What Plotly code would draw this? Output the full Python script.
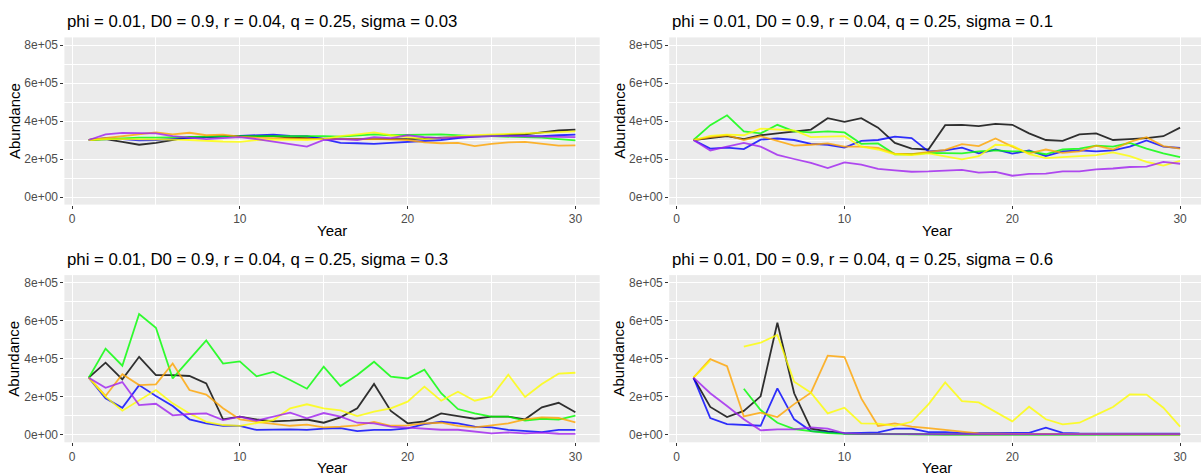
import plotly.graph_objects as go

W, H = 1201, 475
UNIT = 1000  # values below are in thousands

years = list(range(1, 31))
series_names = ["black", "blue", "green", "orange", "yellow", "purple"]
series_colors = {"black": "#000000", "blue": "#0000FF", "green": "#00FF00",
                 "orange": "#FFA500", "yellow": "#FFFF00", "purple": "#A020F0"}

titles = [
    "phi = 0.01, D0 = 0.9, r = 0.04, q = 0.25, sigma = 0.03",
    "phi = 0.01, D0 = 0.9, r = 0.04, q = 0.25, sigma = 0.1",
    "phi = 0.01, D0 = 0.9, r = 0.04, q = 0.25, sigma = 0.3",
    "phi = 0.01, D0 = 0.9, r = 0.04, q = 0.25, sigma = 0.6",
]

y_tickvals = [0, 200000, 400000, 600000, 800000]
y_ticktext = ["0e+00", "2e+05", "4e+05", "6e+05", "8e+05"]
x_tickvals = [0, 10, 20, 30]
x_ticktext = ["0", "10", "20", "30"]

# sigma = 0.03
s003_black = [300, 305, 290, 275, 285, 300, 315, 315, 318, 322, 320, 320, 312, 310, 305, 305, 305, 305, 303, 305, 308, 312, 315, 320, 322, 325, 330, 340, 350, 355]
s003_blue = [300, 310, 305, 298, 300, 305, 312, 318, 320, 322, 325, 328, 322, 320, 305, 285, 283, 280, 285, 290, 292, 300, 310, 318, 320, 320, 318, 320, 325, 328]
s003_green = [300, 305, 310, 312, 312, 315, 318, 318, 320, 320, 320, 320, 322, 322, 320, 318, 325, 330, 325, 325, 328, 330, 325, 320, 320, 318, 315, 312, 305, 298]
s003_orange = [300, 310, 320, 330, 340, 330, 338, 325, 328, 318, 312, 310, 308, 305, 305, 305, 303, 305, 302, 300, 287, 283, 285, 268, 280, 287, 290, 280, 270, 272]
s003_yellow = [300, 305, 305, 305, 305, 302, 300, 295, 292, 290, 300, 302, 300, 300, 305, 320, 330, 340, 325, 315, 305, 310, 320, 325, 330, 332, 335, 338, 342, 345]
s003_purple = [300, 330, 338, 338, 335, 320, 312, 305, 310, 315, 305, 292, 280, 265, 300, 305, 300, 315, 310, 325, 315, 310, 315, 318, 320, 320, 318, 318, 315, 315]

# sigma = 0.1
s01_black = [300, 310, 320, 305, 325, 335, 345, 355, 415, 395, 415, 365, 285, 255, 250, 378, 380, 373, 385, 380, 335, 300, 295, 330, 335, 300, 305, 310, 320, 365]
s01_blue = [300, 255, 260, 252, 302, 308, 300, 280, 275, 260, 295, 300, 318, 310, 240, 245, 260, 230, 250, 228, 245, 215, 240, 245, 240, 245, 265, 298, 265, 258]
s01_green = [300, 378, 430, 345, 335, 380, 345, 340, 345, 340, 280, 282, 225, 225, 232, 232, 230, 240, 245, 240, 240, 225, 250, 255, 270, 265, 285, 255, 230, 210]
s01_orange = [300, 315, 325, 300, 320, 295, 270, 275, 282, 265, 265, 258, 228, 225, 235, 248, 278, 268, 308, 265, 230, 250, 232, 240, 270, 250, 290, 315, 268, 255]
s01_yellow = [300, 322, 328, 325, 360, 355, 350, 315, 318, 320, 265, 250, 225, 220, 230, 215, 198, 215, 275, 270, 225, 205, 210, 215, 220, 235, 215, 185, 165, 190]
s01_purple = [300, 245, 265, 285, 265, 222, 200, 180, 152, 182, 170, 148, 140, 133, 135, 138, 143, 128, 132, 112, 122, 123, 135, 135, 145, 150, 158, 160, 185, 175]

# sigma = 0.3
s03_black = [300, 379, 291, 410, 314, 314, 309, 270, 81, 95, 80, 70, 74, 80, 63, 91, 139, 267, 125, 60, 70, 112, 98, 84, 95, 95, 81, 144, 168, 118]
s03_blue = [300, 191, 142, 261, 204, 151, 81, 60, 47, 46, 25, 28, 28, 25, 32, 35, 19, 25, 25, 33, 56, 68, 60, 42, 39, 25, 19, 14, 25, 25]
s03_green = [300, 453, 363, 635, 563, 296, 396, 496, 374, 386, 307, 330, 288, 242, 358, 256, 314, 384, 305, 296, 342, 218, 135, 112, 95, 95, 74, 84, 79, 100]
s03_orange = [300, 204, 318, 261, 265, 375, 235, 211, 139, 81, 68, 56, 47, 53, 39, 42, 49, 67, 47, 49, 60, 63, 46, 39, 49, 60, 81, 91, 88, 65]
s03_yellow = [300, 200, 126, 182, 235, 165, 112, 68, 51, 46, 60, 77, 139, 160, 139, 128, 98, 121, 139, 174, 253, 179, 226, 179, 200, 316, 198, 267, 321, 326]
s03_purple = [300, 247, 277, 156, 163, 102, 109, 112, 77, 95, 74, 95, 116, 86, 114, 95, 63, 60, 42, 37, 30, 26, 26, 18, 7, 12, 7, 11, 5, 4]

# sigma = 0.6 (None = missing value)
s06_black = [300, 146, 93, 125, 202, 589, 218, 32, 18, 7, 4, 3, 3, 3, 3, 2, 2, 2, 2, 2, 2, 2, 2, 2, 2, 2, 2, 2, 2, 2]
s06_blue = [300, 88, 56, 51, 47, 244, 81, 19, 12, 7, 9, 12, 32, 32, 14, 14, 8, 8, 9, 9, 10, 37, 10, 7, 7, 6, 8, 7, 7, 6]
s06_green = [300, None, None, 242, 130, 63, 30, 19, 9, 4, 3, 2, 1, 1, 1, 1, 1, 1, 1, 1, 1, 1, 1, 1, 1, 1, 1, 1, 1, 1]
s06_orange = [300, 398, 361, 96, 116, 93, 161, 221, 416, 409, 191, 46, 60, 42, 35, 26, 16, 7, 5, 4, 4, 3, 3, 3, 3, 2, 2, 2, 2, 2]
s06_yellow = [300, 390, None, 463, 484, 525, 279, 221, 112, 142, 60, 58, 47, 68, 160, 275, 177, 170, 119, 70, 147, 81, 54, 63, 104, 146, 212, 211, 142, 42]
s06_purple = [300, 218, 151, 81, 23, 28, 28, 39, 32, 7, 4, 3, 3, 3, 3, 3, 3, 3, 3, 3, 3, 3, 3, 3, 3, 3, 3, 3, 3, 3]

panels = [
    {"black": s003_black, "blue": s003_blue, "green": s003_green, "orange": s003_orange, "yellow": s003_yellow, "purple": s003_purple},
    {"black": s01_black, "blue": s01_blue, "green": s01_green, "orange": s01_orange, "yellow": s01_yellow, "purple": s01_purple},
    {"black": s03_black, "blue": s03_blue, "green": s03_green, "orange": s03_orange, "yellow": s03_yellow, "purple": s03_purple},
    {"black": s06_black, "blue": s06_blue, "green": s06_green, "orange": s06_orange, "yellow": s06_yellow, "purple": s06_purple},
]

# panel geometry in pixels
px_per_year = 16.78
col_left = [64.4, 669.2]
col_x0 = [72.0, 676.7]   # pixel position of year 0
row_top = [37.4, 275.1]
row_bot = [204.6, 442.3]

fig = go.Figure()

FONT = "Liberation Sans, Arial, Helvetica, sans-serif"

for i, data in enumerate(panels):
    r, c = divmod(i, 2)
    ax = "" if i == 0 else str(i + 1)
    xa, ya = "x" + ax, "y" + ax
    for name in series_names:
        vals = [None if v is None else v * UNIT for v in data[name]]
        fig.add_trace(go.Scatter(
            x=years, y=vals, mode="lines", xaxis=xa, yaxis=ya,
            line=dict(color=series_colors[name], width=1.8),
            opacity=0.8, showlegend=False, connectgaps=False, hoverinfo="skip"))

    left = col_left[c]
    xmin = (left - col_x0[c]) / px_per_year
    right = min(left + 31.9 * px_per_year, W)
    xmax = (right - col_x0[c]) / px_per_year
    common = dict(showline=False, zeroline=False, gridcolor="white", gridwidth=1.2,
                  ticks="outside", ticklen=3, tickwidth=1, tickcolor="#333333",
                  tickfont=dict(family=FONT, size=12, color="#4D4D4D"))
    fig.layout["xaxis" + ax] = dict(
        domain=[left / W, right / W], range=[xmin, xmax], anchor=ya,
        tickmode="array", tickvals=x_tickvals, ticktext=x_ticktext,
        minor=dict(tickvals=[5, 15, 25], showgrid=True, gridcolor="white", gridwidth=0.6, ticks=""),
        **common)
    fig.layout["yaxis" + ax] = dict(
        domain=[1 - row_bot[r] / H, 1 - row_top[r] / H], range=[-40000, 840000], anchor=xa,
        tickmode="array", tickvals=y_tickvals, ticktext=y_ticktext,
        minor=dict(tickvals=[100000, 300000, 500000, 700000], showgrid=True, gridcolor="white", gridwidth=0.6, ticks=""),
        **common)

    # panel title
    fig.add_annotation(text=titles[i], xref="paper", yref="paper",
                       x=(left + 0.5) / W, y=1 - (row_top[r] - 16) / H,
                       xanchor="left", yanchor="middle", showarrow=False,
                       font=dict(family=FONT, size=16.8, color="#000000"))
    # x axis title
    full_right = left + 31.9 * px_per_year
    fig.add_annotation(text="Year", xref="paper", yref="paper",
                       x=(left + full_right) / 2 / W, y=1 - (row_bot[r] + 25.5) / H,
                       xanchor="center", yanchor="middle", showarrow=False,
                       font=dict(family=FONT, size=15, color="#000000"))
    # y axis title
    fig.add_annotation(text="Abundance", xref="paper", yref="paper",
                       x=(left - 50.4) / W, y=1 - (row_top[r] + row_bot[r]) / 2 / H,
                       xanchor="center", yanchor="middle", textangle=-90, showarrow=False,
                       font=dict(family=FONT, size=15, color="#000000"))

fig.update_layout(width=W, height=H, margin=dict(l=0, r=0, t=0, b=0),
                  paper_bgcolor="white", plot_bgcolor="#EBEBEB", showlegend=False)

fig.write_html("out.html")
